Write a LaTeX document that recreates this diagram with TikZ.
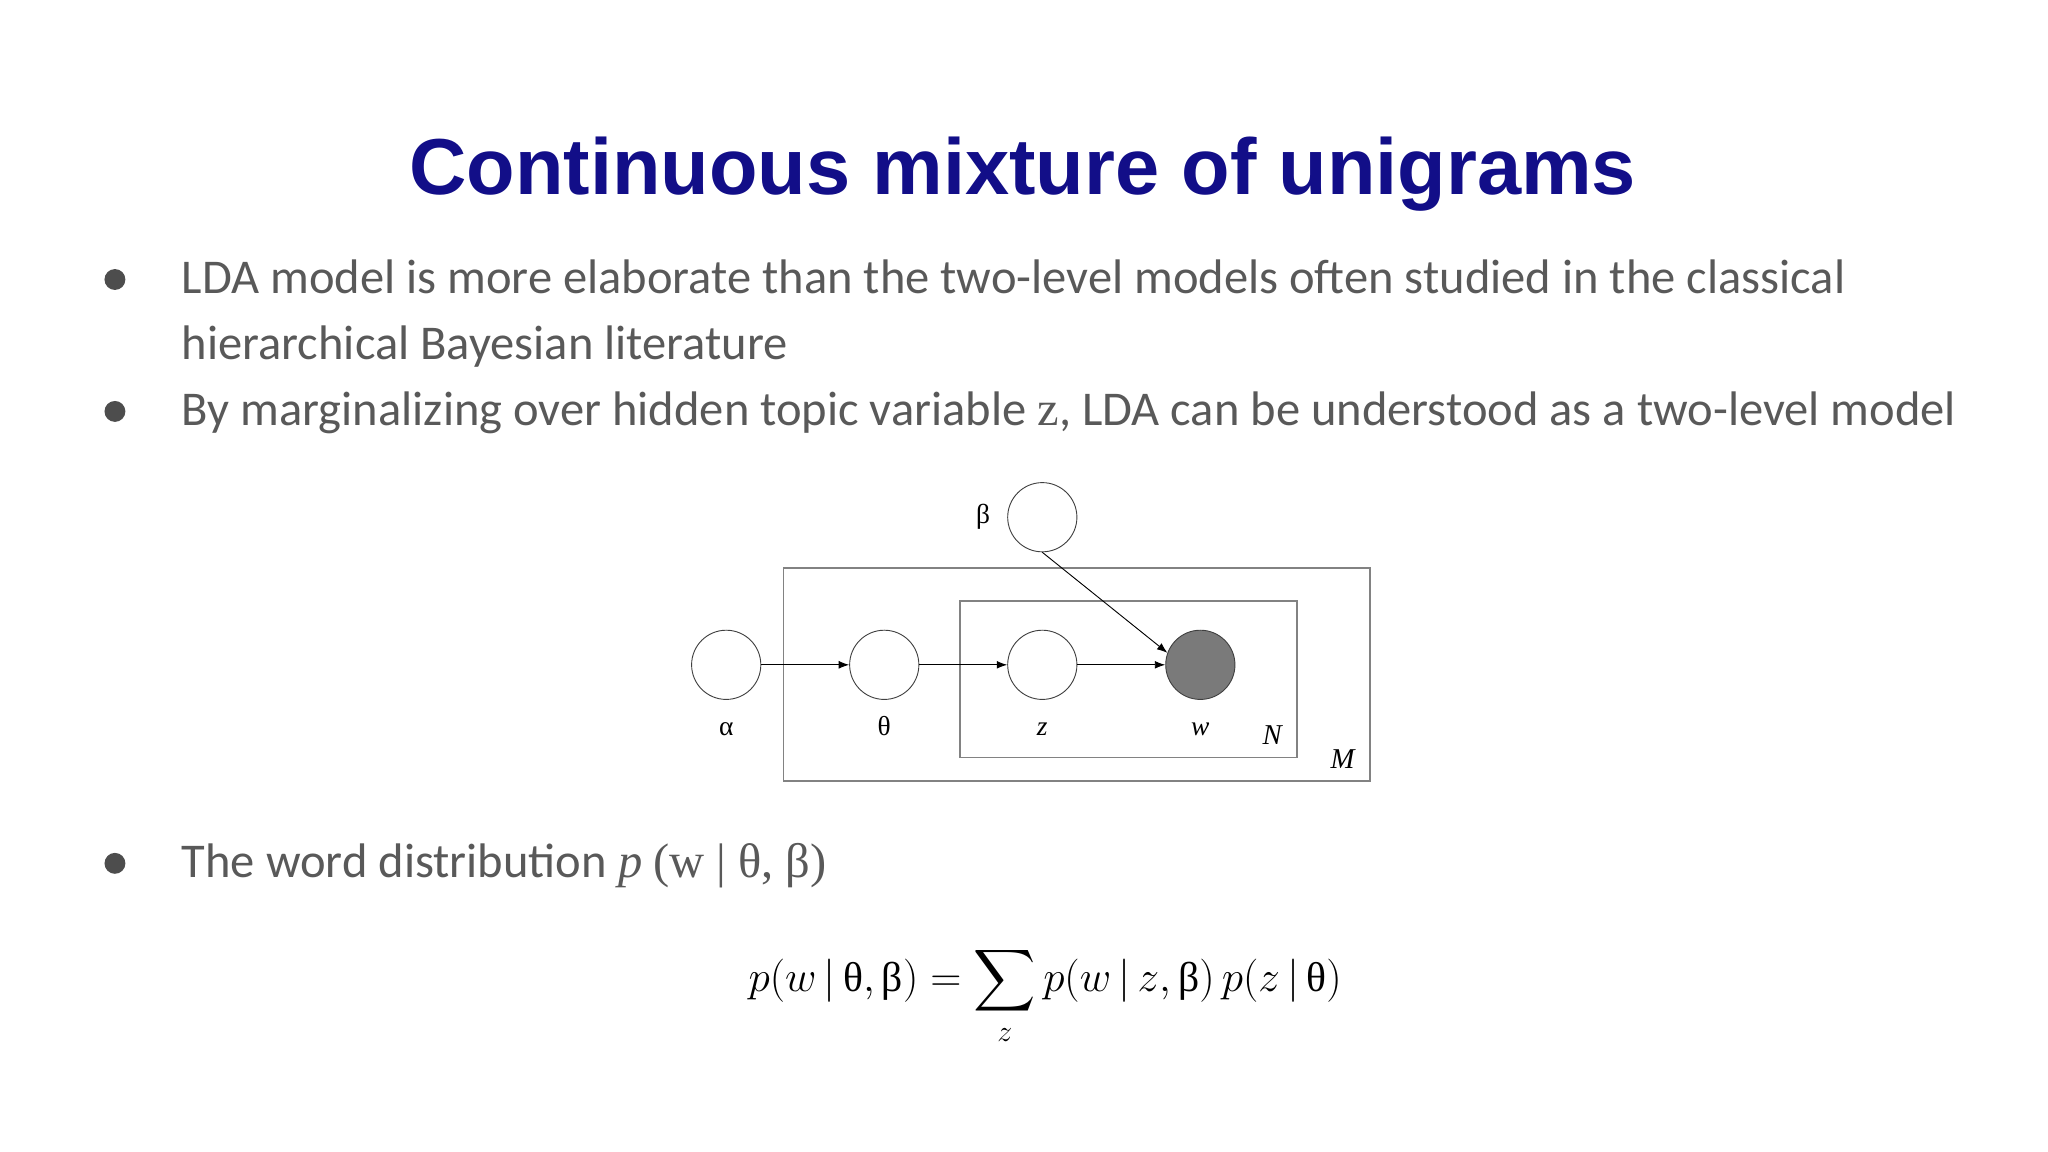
\documentclass[tikz,border=0pt]{standalone}
\usepackage{fontspec}
\usepackage{amsmath}
\setmainfont{Carlito}
\newfontfamily\titlefont{Liberation Sans}
\newfontfamily\figfont{Liberation Serif}
\usetikzlibrary{positioning,arrows.meta}

\definecolor{titleblue}{RGB}{18,14,136}
\definecolor{bodygray}{RGB}{89,89,89}
\definecolor{dotgray}{RGB}{77,77,77}
\definecolor{plategray}{RGB}{130,130,130}
\definecolor{obsgray}{RGB}{122,122,122}

\newcommand{\ug}[1]{\text{\figfont #1}}

\begin{document}
\begin{tikzpicture}[
% Change style
	x=1pt, y=-1pt,
	node distance=121pt,
	on grid,
	var/.style={circle, draw=black!75, line width=0.7pt, minimum size=53pt, inner sep=0pt},
	obs/.style={var, fill=obsgray},
	post/.style={->, >={Latex[length=8pt,width=6pt]}, line width=0.7pt},
	plate/.style={draw=plategray, line width=1.1pt},
	bullet/.style={circle, fill=dotgray, minimum size=16pt, inner sep=0pt},
	body/.style={anchor=base west, inner sep=0pt, text=bodygray, font=\fontsize{37.15}{44}\selectfont},
	title/.style={anchor=base, inner sep=0pt, text=titleblue, font=\titlefont\bfseries\fontsize{60.8}{70}\selectfont},
	every label/.style={inner sep=0pt, font=\figfont\fontsize{21}{24}\selectfont},
	platelabel/.style={inner sep=0pt, font=\figfont\itshape\fontsize{22}{26}\selectfont}]

\fill[white] (0,0) rectangle (1568,882);
\useasboundingbox (0,0) rectangle (1568,882);

% Title
\node[title] (title) at (783,149) {Continuous mixture of unigrams};

% Bullets
\node[bullet] (dot1) at (88,214) {};
\node[body] (line1) at (139,225) {LDA model is more elaborate than the two-level models often studied in the classical};
\node[body] (line1b) at (139,275) {hierarchical Bayesian literature};
\node[bullet] (dot2) at (88,315) {};
\node[body] (line2) at (139,326) {By marginalizing over hidden topic variable {\figfont z}, LDA can be understood as a two-level model};
\node[bullet] (dot3) at (88,661) {};
\node[body] (line3) at (139,672) {The word distribution {\figfont\itshape p} {\figfont (w | θ, β)}};

% Plates
\draw[plate] (600,435) rectangle (1049,598);
\draw[plate] (735,460) rectangle (993,580);
\node[platelabel] (labN) at (974,563) {N};
\node[platelabel] (labM) at (1028,581) {M};

% Alpha
\node[var, label={[anchor=base, label distance=27pt]below:α}] (alpha) at (556,509) {};

% Theta
\node[var, right=of alpha,
	label={[anchor=base, label distance=27pt]below:θ}] (theta) {};

% Topic
\node[var, right=of theta,
	label={[anchor=base, label distance=27pt]below:\itshape z}] (z) {};

% Word
\node[obs, right=of z,
	label={[anchor=base, label distance=27pt]below:\itshape w}] (w) {};

% Beta
\node[var, above=113pt of z,
	label={[label distance=13pt]left:β}] (beta) {};

% Connections
\draw[post] (alpha) -- (theta);
\draw[post] (theta) -- (z);
\draw[post] (z) -- (w);
\draw[post] (beta.south) -- (w.160);

% Formula
\node[anchor=base west, inner sep=0pt, font=\fontsize{24}{29}\selectfont] (formula) at (573,759)
	{\scalebox{1.33}{$\displaystyle p(w\,|\,\ug{θ},\ug{β}) = \sum_{z} p(w\,|\,z,\ug{β})\,p(z\,|\,\ug{θ})$}};

\end{tikzpicture}
\end{document}
